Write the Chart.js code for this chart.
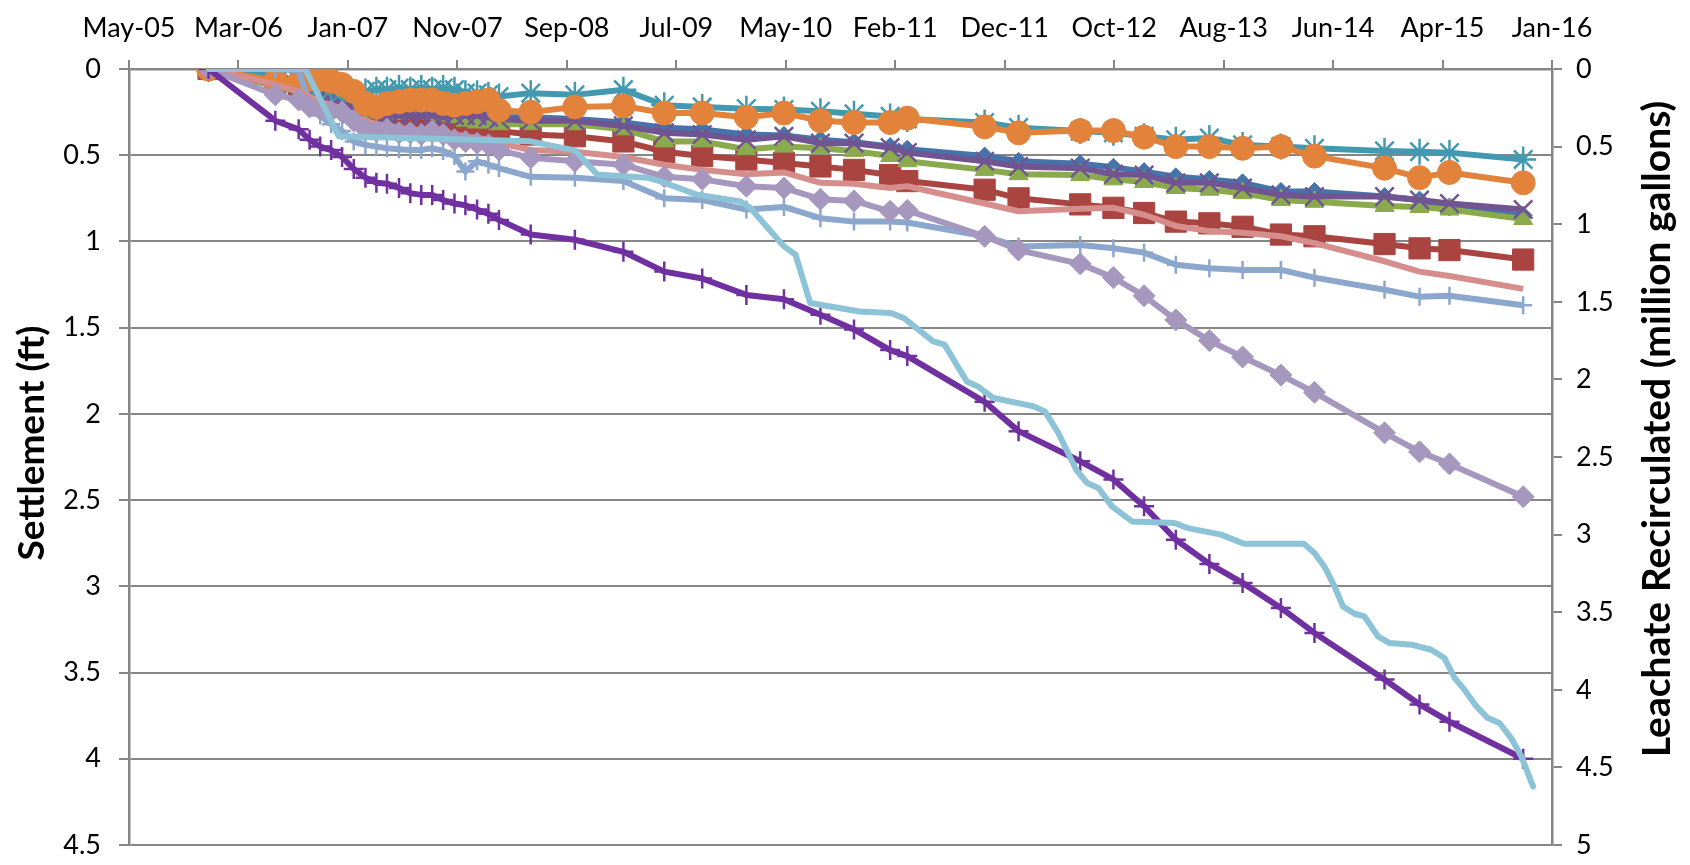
<!DOCTYPE html>
<html>
<head>
<meta charset="utf-8">
<script src="https://cdn.jsdelivr.net/npm/chart.js@4.4.1/dist/chart.umd.min.js"></script>
<style>
  html, body { margin: 0; padding: 0; background: #fff; }
  #wrap { width: 1690px; height: 865px; position: relative; }
</style>
</head>
<body>
<div id="wrap"><canvas id="chart"></canvas></div>
<script>
// survey dates shared by all settlement plates
const surveyDates = [
  '2006-01-01', '2006-07-03', '2006-09-05', '2006-10-05', '2006-11-03', '2006-12-03',
  '2007-01-02', '2007-02-03', '2007-03-07', '2007-04-06', '2007-05-05', '2007-06-07',
  '2007-07-08', '2007-08-07', '2007-09-06', '2007-10-06', '2007-11-06', '2007-12-06',
  '2008-01-07', '2008-02-07', '2008-03-07', '2008-06-02', '2008-10-01', '2009-02-11',
  '2009-06-03', '2009-09-15', '2010-01-14', '2010-04-27', '2010-08-05', '2010-11-05',
  '2011-02-12', '2011-03-31', '2011-10-29', '2012-01-30', '2012-07-17', '2012-10-16',
  '2013-01-08', '2013-04-05', '2013-07-06', '2013-10-05', '2014-01-18', '2014-04-20',
  '2014-10-29', '2015-02-02', '2015-04-25', '2015-11-13'
];

// settlement (ft), one array per plate
const settleBlue = [
  0, 0.08, 0.10, 0.12, 0.15, 0.17, 0.20, 0.22, 0.25, 0.26, 0.26, 0.26,
  0.26, 0.26, 0.26, 0.27, 0.27, 0.27, 0.27, 0.27, 0.28, 0.28, 0.29, 0.31,
  0.34, 0.35, 0.38, 0.385, 0.41, 0.425, 0.45, 0.465, 0.505, 0.535, 0.55, 0.57,
  0.595, 0.625, 0.64, 0.66, 0.71, 0.71, 0.74, 0.76, 0.80, 0.85
];
const settleRed = [
  0, 0.08, 0.12, 0.15, 0.18, 0.20, 0.22, 0.25, 0.28, 0.29, 0.29, 0.29,
  0.30, 0.29, 0.30, 0.31, 0.32, 0.33, 0.33, 0.34, 0.36, 0.38, 0.39, 0.42,
  0.48, 0.505, 0.525, 0.545, 0.565, 0.585, 0.615, 0.65, 0.70, 0.75, 0.785, 0.805,
  0.835, 0.885, 0.895, 0.915, 0.96, 0.97, 1.015, 1.04, 1.05, 1.105
];
const settleGreen = [
  0, 0.10, 0.13, 0.15, 0.17, 0.19, 0.21, 0.23, 0.25, 0.26, 0.26, 0.26,
  0.25, 0.25, 0.26, 0.27, 0.28, 0.30, 0.31, 0.31, 0.32, 0.32, 0.32, 0.35,
  0.42, 0.42, 0.465, 0.45, 0.46, 0.475, 0.505, 0.535, 0.585, 0.61, 0.615, 0.64,
  0.655, 0.69, 0.70, 0.72, 0.76, 0.77, 0.795, 0.80, 0.815, 0.87
];
const settlePurple = [
  0, 0.09, 0.11, 0.13, 0.15, 0.17, 0.20, 0.22, 0.25, 0.27, 0.27, 0.27,
  0.27, 0.27, 0.27, 0.28, 0.27, 0.27, 0.27, 0.28, 0.29, 0.30, 0.30, 0.33,
  0.37, 0.38, 0.41, 0.39, 0.43, 0.43, 0.455, 0.485, 0.535, 0.565, 0.575, 0.61,
  0.615, 0.66, 0.66, 0.69, 0.73, 0.74, 0.74, 0.76, 0.78, 0.815
];
const settleTeal = [
  0, 0.04, 0.07, 0.09, 0.10, 0.12, 0.13, 0.14, 0.13, 0.12, 0.12, 0.11,
  0.12, 0.11, 0.12, 0.11, 0.12, 0.14, 0.14, 0.15, 0.16, 0.14, 0.15, 0.12,
  0.21, 0.22, 0.23, 0.235, 0.245, 0.26, 0.275, 0.29, 0.31, 0.34, 0.36, 0.37,
  0.39, 0.41, 0.40, 0.44, 0.45, 0.46, 0.475, 0.48, 0.485, 0.525
];
const settleOrange = [
  0, 0.07, 0.08, 0.06, 0.06, 0.07, 0.09, 0.13, 0.20, 0.22, 0.20, 0.19,
  0.18, 0.18, 0.18, 0.20, 0.21, 0.20, 0.19, 0.18, 0.24, 0.25, 0.22, 0.215,
  0.255, 0.255, 0.28, 0.255, 0.30, 0.31, 0.31, 0.285, 0.335, 0.37, 0.357, 0.357,
  0.395, 0.45, 0.45, 0.46, 0.45, 0.505, 0.575, 0.63, 0.60, 0.66
];
const settleSky = [
  0, 0, 0.01, 0.20, 0.27, 0.32, 0.36, 0.42, 0.44, 0.45, 0.46, 0.465,
  0.47, 0.47, 0.46, 0.475, 0.505, 0.595, 0.535, 0.555, 0.575, 0.625, 0.63, 0.65,
  0.75, 0.76, 0.815, 0.80, 0.865, 0.885, 0.885, 0.89, 0.97, 1.03, 1.02, 1.04,
  1.065, 1.135, 1.155, 1.165, 1.165, 1.21, 1.28, 1.32, 1.315, 1.37
];
const settlePink = [
  0, 0.09, 0.13, 0.16, 0.19, 0.21, 0.23, 0.27, 0.30, 0.32, 0.33, 0.34,
  0.35, 0.36, 0.36, 0.37, 0.38, 0.39, 0.40, 0.41, 0.43, 0.47, 0.48, 0.51,
  0.555, 0.585, 0.61, 0.60, 0.66, 0.665, 0.69, 0.68, 0.78, 0.825, 0.81, 0.805,
  0.845, 0.91, 0.94, 0.95, 0.97, 1.01, 1.115, 1.175, 1.20, 1.275
];
const settleLavender = [
  0, 0.15, 0.18, 0.22, 0.235, 0.245, 0.25, 0.30, 0.35, 0.36, 0.35, 0.37,
  0.37, 0.38, 0.36, 0.38, 0.41, 0.42, 0.43, 0.44, 0.47, 0.515, 0.535, 0.555,
  0.625, 0.64, 0.68, 0.69, 0.755, 0.765, 0.825, 0.82, 0.97, 1.05, 1.13, 1.21,
  1.315, 1.455, 1.575, 1.67, 1.775, 1.875, 2.11, 2.22, 2.29, 2.48
];
const settleViolet = [
  0, 0.30, 0.35, 0.41, 0.45, 0.47, 0.51, 0.58, 0.63, 0.66, 0.665, 0.69,
  0.72, 0.73, 0.73, 0.76, 0.78, 0.79, 0.815, 0.84, 0.875, 0.96, 0.99, 1.06,
  1.175, 1.215, 1.31, 1.335, 1.425, 1.51, 1.63, 1.665, 1.93, 2.10, 2.275, 2.38,
  2.535, 2.73, 2.87, 2.98, 3.125, 3.27, 3.54, 3.685, 3.785, 4.00
];

// cumulative leachate recirculated (million gallons), right axis
const leachateDates = [
  '2006-01-01', '2006-09-23', '2006-12-24', '2008-06-02', '2008-10-01', '2008-12-01',
  '2009-04-18', '2009-05-24', '2009-09-01', '2009-12-29', '2010-01-25', '2010-04-27',
  '2010-05-29', '2010-07-08', '2010-11-20', '2011-02-14', '2011-03-22', '2011-06-10',
  '2011-07-11', '2011-09-10', '2011-10-10', '2011-11-22', '2012-03-12', '2012-04-11',
  '2012-05-18', '2012-07-06', '2012-08-05', '2012-09-05', '2012-10-12', '2012-12-06',
  '2013-04-01', '2013-05-08', '2013-08-07', '2013-10-09', '2014-03-22', '2014-04-20',
  '2014-05-17', '2014-06-14', '2014-07-07', '2014-08-08', '2014-09-04', '2014-10-11',
  '2014-11-12', '2015-01-10', '2015-03-06', '2015-04-11', '2015-05-09', '2015-06-05',
  '2015-07-08', '2015-08-08', '2015-09-09', '2015-10-11', '2015-11-08', '2015-12-10'
];
const leachateVolume = [
  0, 0, 0.434, 0.466, 0.524, 0.68,
  0.70, 0.724, 0.81, 0.853, 0.896, 1.143,
  1.197, 1.508, 1.562, 1.572, 1.605, 1.755,
  1.776, 2.013, 2.045, 2.12, 2.174, 2.206,
  2.345, 2.582, 2.668, 2.70, 2.818, 2.915,
  2.925, 2.958, 3.0, 3.059, 3.059, 3.119,
  3.205, 3.334, 3.463, 3.51, 3.527, 3.656,
  3.699, 3.709, 3.742, 3.795, 3.924, 3.999,
  4.107, 4.182, 4.214, 4.311, 4.429, 4.622
];

const xFirstTick = '2005-05-28';
const xTickStepDays = 300;
const xTickLabels = [
  'May-05', 'Mar-06', 'Jan-07', 'Nov-07', 'Sep-08', 'Jul-09', 'May-10',
  'Feb-11', 'Dec-11', 'Oct-12', 'Aug-13', 'Jun-14', 'Apr-15', 'Jan-16'
];
const leftTitle = 'Settlement (ft)';
const rightTitle = 'Leachate Recirculated (million gallons)';

const EXCEL_EPOCH = Date.UTC(1899, 11, 30);
function serial(dateStr) {
  const [y, m, d] = dateStr.split('-').map(Number);
  return (Date.UTC(y, m - 1, d) - EXCEL_EPOCH) / 86400000;
}

const AXIS_GRAY = '#868686';
const FONT = 'Lato';
const xMin = serial(xFirstTick);
const xMax = xMin + xTickStepDays * (xTickLabels.length - 1);

function plate(values, color, style, radius, order, hollow) {
  return {
    data: surveyDates.map((d, i) => ({ x: serial(d), y: values[i] })),
    yAxisID: 'y',
    borderColor: color,
    backgroundColor: color,
    borderWidth: 6,
    borderJoinStyle: 'round',
    pointStyle: style,
    pointRadius: radius,
    pointBackgroundColor: color,
    pointBorderColor: color,
    pointBorderWidth: hollow ? 2.5 : 1,
    tension: 0,
    order
  };
}

const datasets = [
  plate(settleBlue, '#4674AA', 'rectRot', 9, 10),
  plate(settleRed, '#AA4441', 'rect', 15, 9),
  plate(settleGreen, '#8AAA4D', 'triangle', 11, 8),
  plate(settlePurple, '#715592', 'crossRot', 13, 7, true),
  plate(settleTeal, '#4399B0', 'star', 13, 6, true),
  plate(settleOrange, '#E3823A', 'circle', 12, 5),
  plate(settleSky, '#8CA7CE', 'cross', 9, 4, true),
  plate(settlePink, '#D58E8C', 'circle', 0, 3),
  plate(settleLavender, '#A697BE', 'rectRot', 11, 2),
  plate(settleViolet, '#7030A0', 'cross', 10, 1, true),
  {
    data: leachateDates.map((d, i) => ({ x: serial(d), y: leachateVolume[i] })),
    yAxisID: 'y2',
    borderColor: '#8DC3D6',
    borderWidth: 6,
    borderJoinStyle: 'round',
    borderCapStyle: 'round',
    pointRadius: 0,
    tension: 0,
    order: 0
  }
];

// both y titles read bottom-to-top, so draw them here
const axisTitles = {
  id: 'axisTitles',
  afterDraw(chart) {
    const { ctx, chartArea } = chart;
    const mid = (chartArea.top + chartArea.bottom) / 2;
    const titles = [
      [leftTitle, 37, 32, mid - 14],
      [rightTitle, 39, chart.width - 33, mid - 28]
    ];
    ctx.save();
    ctx.fillStyle = '#000';
    ctx.textAlign = 'center';
    ctx.textBaseline = 'middle';
    titles.forEach(([text, size, x, y]) => {
      ctx.save();
      ctx.font = `bold ${size}px ${FONT}`;
      ctx.translate(x, y);
      ctx.rotate(-Math.PI / 2);
      ctx.fillText(text, 0, 0);
      ctx.restore();
    });
    ctx.restore();
  }
};

// keep label overhang from shrinking the plot area
function fixWidth(w) {
  return s => { s.width = w; s.paddingTop = 0; s.paddingBottom = 0; };
}

new Chart(document.getElementById('chart'), {
  type: 'line',
  data: { datasets },
  plugins: [axisTitles],
  options: {
    responsive: true,
    maintainAspectRatio: false,
    devicePixelRatio: 1,
    animation: false,
    layout: { padding: { top: 0, bottom: 20, left: 0, right: 0 } },
    plugins: { legend: { display: false }, tooltip: { enabled: false } },
    scales: {
      x: {
        type: 'linear',
        position: 'top',
        min: xMin,
        max: xMax,
        afterBuildTicks: s => { s.ticks = xTickLabels.map((_, i) => ({ value: xMin + i * xTickStepDays })); },
        afterFit: s => { s.height = 69; },
        ticks: {
          autoSkip: false, maxRotation: 0, padding: 16, color: '#000',
          font: { family: FONT, size: 27 },
          callback: (v, i) => xTickLabels[i]
        },
        grid: { drawOnChartArea: false, drawTicks: true, tickLength: 9, color: AXIS_GRAY, lineWidth: 2 },
        border: { color: AXIS_GRAY, width: 2.5 }
      },
      y: {
        position: 'left',
        reverse: true,
        min: 0,
        max: 4.5,
        afterFit: fixWidth(129),
        ticks: {
          stepSize: 0.5, padding: 18, color: '#000',
          font: { family: FONT, size: 27 },
          callback: v => String(v)
        },
        grid: { color: AXIS_GRAY, lineWidth: 2, tickLength: 10 },
        border: { color: AXIS_GRAY, width: 2.5 }
      },
      y2: {
        position: 'right',
        reverse: true,
        min: 0,
        max: 5,
        afterFit: fixWidth(138),
        ticks: {
          stepSize: 0.5, padding: 14, color: '#000',
          font: { family: FONT, size: 27 },
          callback: v => String(v)
        },
        grid: { drawOnChartArea: false, color: AXIS_GRAY, lineWidth: 2, tickLength: 10 },
        border: { color: AXIS_GRAY, width: 2.5 }
      }
    }
  }
});
</script>
</body>
</html>
